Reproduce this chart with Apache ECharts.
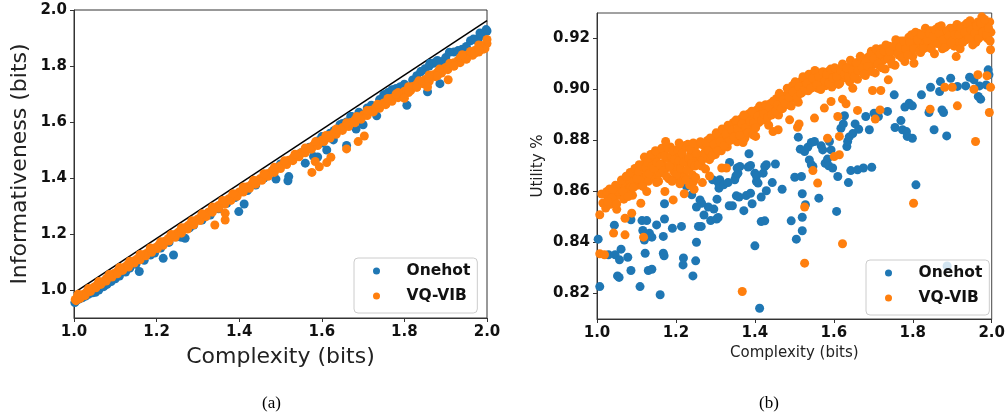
<!DOCTYPE html>
<html>
<head>
<meta charset="utf-8">
<script src="https://cdn.jsdelivr.net/npm/echarts@6/dist/echarts.min.js"></script>
<style>
  html, body { margin: 0; padding: 0; background: #fff; }
  #chart { width: 1008px; height: 417px; }
</style>
</head>
<body>
<div id="chart"></div>
<script>
// ---- data ----
const seriesNames = ['Onehot', 'VQ-VIB'];
const xTicks = [1.0, 1.2, 1.4, 1.6, 1.8, 2.0];
const leftYTicks = [1.0, 1.2, 1.4, 1.6, 1.8, 2.0];
const rightYTicks = [0.82, 0.84, 0.86, 0.88, 0.90, 0.92];

// (a) complexity vs informativeness
const boundLine = [[1.0, 0.99], [2.0, 1.962]];

const onehotA = [
  [1.002,0.955],[1.006,0.962],[1.012,0.968],[1.02,0.972],[1.028,0.978],[1.035,0.985],[1.045,0.99],
  [1.052,0.992],[1.06,1.0],[1.072,1.012],[1.08,1.02],[1.09,1.03],[1.1,1.04],[1.11,1.05],[1.125,1.064],
  [1.135,1.078],[1.15,1.092],[1.17,1.106],[1.185,1.125],[1.195,1.132],[1.21,1.15],[1.23,1.17],
  [1.25,1.19],[1.26,1.188],[1.28,1.222],[1.29,1.232],[1.31,1.25],[1.33,1.268],[1.35,1.29],[1.37,1.31],
  [1.39,1.33],[1.42,1.355],[1.44,1.375],[1.46,1.40],[1.48,1.425],[1.5,1.45],[1.51,1.455],[1.53,1.468],
  [1.55,1.49],[1.57,1.51],[1.59,1.532],[1.6,1.548],[1.62,1.56],[1.63,1.57],[1.65,1.595],[1.66,1.60],
  [1.67,1.62],[1.69,1.635],[1.71,1.65],[1.72,1.66],[1.74,1.68],[1.75,1.697],[1.76,1.705],[1.77,1.715],
  [1.78,1.72],[1.79,1.725],[1.8,1.735],[1.82,1.75],[1.83,1.765],[1.84,1.78],[1.85,1.79],[1.86,1.80],
  [1.87,1.81],[1.88,1.82],[1.89,1.815],[1.9,1.83],[1.92,1.85],[1.93,1.855],[1.94,1.86],[1.95,1.87],
  [1.96,1.89],[1.97,1.895],[1.98,1.90],[1.99,1.915],[2.0,1.925],
  [1.158,1.066],[1.216,1.113],[1.241,1.125],[1.269,1.185],[1.399,1.28],[1.412,1.307],[1.489,1.396],
  [1.518,1.39],[1.52,1.405],[1.56,1.453],[1.58,1.477],[1.59,1.475],[1.6,1.525],[1.612,1.50],
  [1.628,1.536],[1.644,1.59],[1.66,1.516],[1.672,1.62],[1.683,1.575],[1.70,1.59],[1.733,1.622],
  [1.753,1.697],[1.777,1.715],[1.79,1.725],[1.806,1.66],[1.84,1.78],[1.856,1.708],[1.862,1.81],
  [1.878,1.816],[1.886,1.737],[1.909,1.849],[1.967,1.896],[1.983,1.918],[1.998,1.93]
];

const vqvibA = [
  [1.003,0.966],[1.008,0.975],[1.012,0.972],[1.018,0.982],[1.024,0.985],[1.03,0.992],[1.036,0.996],
  [1.042,1.003],[1.048,1.01],[1.055,1.016],[1.06,1.02],[1.066,1.028],[1.072,1.031],[1.078,1.04],
  [1.085,1.046],[1.09,1.05],[1.097,1.059],[1.103,1.064],[1.11,1.07],[1.117,1.078],[1.124,1.083],
  [1.13,1.09],[1.138,1.096],[1.145,1.104],[1.152,1.11],[1.16,1.118],[1.168,1.126],[1.175,1.13],
  [1.183,1.14],[1.19,1.146],[1.198,1.152],[1.205,1.16],[1.213,1.168],[1.22,1.174],[1.228,1.183],
  [1.236,1.19],[1.244,1.198],[1.252,1.206],[1.26,1.214],[1.268,1.222],[1.276,1.23],[1.284,1.238],
  [1.292,1.246],[1.3,1.254],[1.308,1.262],[1.316,1.27],[1.325,1.278],[1.333,1.286],[1.342,1.294],
  [1.35,1.302],[1.358,1.31],[1.366,1.318],[1.375,1.326],[1.383,1.334],[1.392,1.342],[1.4,1.35],
  [1.41,1.36],[1.42,1.369],[1.43,1.378],[1.44,1.388],[1.45,1.397],[1.46,1.407],[1.47,1.416],
  [1.48,1.426],[1.49,1.435],[1.5,1.444],[1.51,1.454],[1.52,1.463],[1.53,1.472],[1.54,1.481],
  [1.55,1.49],[1.56,1.499],[1.57,1.508],[1.58,1.517],[1.59,1.526],[1.6,1.535],[1.61,1.544],
  [1.62,1.553],[1.63,1.562],[1.64,1.571],[1.65,1.58],[1.66,1.589],[1.67,1.598],[1.68,1.607],
  [1.69,1.616],[1.7,1.625],[1.71,1.633],[1.72,1.642],[1.73,1.651],[1.74,1.66],[1.75,1.668],
  [1.76,1.676],[1.77,1.685],[1.78,1.693],[1.79,1.702],[1.8,1.71],[1.81,1.718],[1.82,1.727],
  [1.83,1.735],[1.84,1.744],[1.85,1.752],[1.86,1.76],[1.87,1.769],[1.88,1.778],[1.89,1.786],
  [1.9,1.795],[1.91,1.803],[1.92,1.812],[1.93,1.82],[1.94,1.829],[1.95,1.838],[1.96,1.846],
  [1.97,1.855],[1.98,1.863],[1.99,1.872],[2.0,1.88],
  [1.005,0.962],[1.015,0.97],[1.027,0.98],[1.04,0.995],[1.053,1.008],[1.065,1.02],[1.078,1.032],
  [1.092,1.046],[1.105,1.058],[1.118,1.07],[1.132,1.082],[1.146,1.096],[1.16,1.108],[1.174,1.122],
  [1.188,1.135],[1.202,1.148],[1.216,1.16],[1.23,1.175],[1.245,1.188],[1.26,1.203],[1.275,1.218],
  [1.29,1.233],[1.305,1.248],[1.32,1.262],[1.335,1.278],[1.35,1.292],[1.365,1.306],[1.38,1.32],
  [1.395,1.335],[1.41,1.35],[1.425,1.363],[1.44,1.378],[1.455,1.392],[1.47,1.406],[1.485,1.42],
  [1.5,1.434],[1.515,1.448],[1.53,1.462],[1.545,1.476],[1.56,1.49],[1.575,1.503],[1.59,1.516],
  [1.605,1.53],[1.62,1.543],[1.635,1.556],[1.65,1.57],[1.665,1.584],[1.68,1.597],[1.695,1.61],
  [1.71,1.623],[1.725,1.636],[1.74,1.649],[1.755,1.662],[1.77,1.674],[1.785,1.687],[1.8,1.70],
  [1.815,1.712],[1.83,1.724],[1.845,1.737],[1.86,1.75],[1.875,1.762],[1.89,1.775],[1.905,1.787],
  [1.92,1.80],[1.935,1.812],[1.95,1.825],[1.965,1.838],[1.98,1.85],[1.995,1.862],
  [1.01,0.985],[1.035,1.005],[1.06,1.03],[1.085,1.055],[1.11,1.08],[1.135,1.103],[1.16,1.127],
  [1.185,1.15],[1.21,1.172],[1.235,1.198],[1.26,1.222],[1.285,1.247],[1.31,1.272],[1.335,1.296],
  [1.36,1.32],[1.385,1.344],[1.41,1.368],[1.435,1.392],[1.46,1.415],[1.485,1.438],[1.51,1.462],
  [1.535,1.485],[1.56,1.507],[1.585,1.53],[1.61,1.552],[1.635,1.575],[1.66,1.597],[1.685,1.62],
  [1.71,1.641],[1.735,1.663],[1.76,1.684],[1.785,1.705],[1.81,1.726],[1.835,1.747],[1.86,1.768],
  [1.885,1.789],[1.91,1.81],[1.935,1.83],[1.96,1.852],[1.985,1.873],
  [1.78,1.70],[1.81,1.705],[1.83,1.725],[1.86,1.745],[1.88,1.765],[1.92,1.80],[1.95,1.825],
  [1.97,1.845],[1.99,1.86],[2.0,1.895],[1.98,1.875],[1.94,1.84],
  [1.341,1.232],[1.366,1.25],[1.366,1.274],[1.576,1.42],[1.584,1.459],[1.594,1.44],[1.612,1.455],
  [1.622,1.474],[1.66,1.504],[1.688,1.53],[1.703,1.55],[1.80,1.685],[1.856,1.725],[1.906,1.751],
  [1.981,1.858]
];

// (b) complexity vs utility
const onehotB = [
  [1.003,0.8413],[1.007,0.8227],[1.044,0.8468],[1.029,0.8352],[1.046,0.8352],[1.061,0.8374],
  [1.057,0.8332],[1.052,0.8269],[1.056,0.8263],[1.078,0.8342],[1.086,0.8290],[1.086,0.8489],
  [1.109,0.8227],[1.114,0.8486],[1.126,0.8486],[1.116,0.8447],[1.120,0.8410],[1.122,0.8358],
  [1.130,0.8290],[1.139,0.8295],[1.133,0.8436],[1.139,0.8421],[1.151,0.8469],[1.160,0.8195],
  [1.168,0.8424],[1.171,0.8492],[1.171,0.8552],[1.168,0.8358],[1.170,0.8348],[1.191,0.8456],
  [1.214,0.8463],[1.219,0.8339],[1.218,0.8312],[1.227,0.8620],[1.231,0.8639],[1.240,0.8587],
  [1.243,0.8269],[1.250,0.8328],[1.252,0.8401],[1.252,0.8539],[1.261,0.8567],[1.265,0.8554],
  [1.257,0.8463],[1.264,0.8463],[1.271,0.8508],[1.282,0.8539],[1.288,0.8486],[1.296,0.8531],
  [1.293,0.8646],[1.307,0.8635],[1.309,0.8613],[1.304,0.8570],[1.307,0.8498],[1.303,0.8492],
  [1.311,0.8646],[1.321,0.8626],[1.332,0.8635],[1.336,0.8714],[1.335,0.8544],[1.343,0.8544],
  [1.349,0.8646],[1.355,0.8692],[1.352,0.8661],[1.357,0.8672],[1.362,0.8698],[1.353,0.8583],
  [1.360,0.8578],[1.372,0.8525],[1.378,0.8584],[1.383,0.8696],[1.385,0.8748],[1.389,0.8702],
  [1.389,0.8593],[1.393,0.8552],[1.400,0.8387],[1.400,0.8672],[1.404,0.8661],[1.404,0.8639],
  [1.408,0.8633],[1.412,0.8142],[1.416,0.8578],[1.416,0.8482],[1.425,0.8485],[1.421,0.8672],
  [1.425,0.8698],[1.429,0.8603],[1.429,0.8705],[1.444,0.8635],[1.452,0.8708],[1.469,0.8609],
  [1.492,0.8485],[1.501,0.8656],[1.505,0.8413],[1.510,0.8813],[1.515,0.8766],[1.518,0.8659],
  [1.520,0.8591],[1.520,0.8499],[1.520,0.8446],[1.526,0.8757],[1.528,0.8548],[1.534,0.8774],
  [1.538,0.8724],[1.543,0.8792],[1.543,0.8705],[1.547,0.8698],[1.551,0.8796],[1.562,0.8574],
  [1.568,0.8779],[1.572,0.8763],[1.578,0.8711],[1.584,0.8727],[1.587,0.8701],[1.589,0.8796],
  [1.593,0.8763],[1.597,0.8692],[1.607,0.8522],[1.610,0.8659],[1.618,0.8848],[1.624,0.8865],
  [1.627,0.8897],[1.633,0.8776],[1.635,0.8796],[1.637,0.8635],[1.639,0.8814],[1.643,0.8682],
  [1.648,0.8827],[1.654,0.8865],[1.660,0.8685],[1.663,0.8844],[1.675,0.8692],[1.681,0.8894],
  [1.690,0.8842],[1.696,0.8695],[1.702,0.8907],[1.713,0.8894],[1.736,0.8914],[1.753,0.8979],
  [1.755,0.8851],[1.770,0.8878],[1.774,0.8842],[1.780,0.8931],[1.784,0.8835],[1.786,0.8816],
  [1.791,0.8946],[1.799,0.8809],[1.799,0.8936],[1.808,0.8626],[1.822,0.8979],[1.845,0.9009],
  [1.841,0.8910],[1.854,0.8842],[1.870,0.9031],[1.868,0.8992],[1.874,0.8920],[1.878,0.8910],
  [1.886,0.8818],[1.887,0.8308],[1.896,0.9044],[1.913,0.9012],[1.934,0.9014],[1.944,0.9048],
  [1.955,0.9038],[1.966,0.8973],[1.969,0.9014],[1.972,0.8962],[1.986,0.9018],[1.991,0.9077],
  [1.993,0.9058]
];

const vqvibB = [
  [1.015,0.8555],[1.022,0.8535],[1.028,0.8575],[1.034,0.8550],[1.040,0.8600],[1.045,0.8560],
  [1.050,0.8530],[1.055,0.8585],[1.058,0.8620],[1.064,0.8600],[1.068,0.8570],[1.072,0.8630],
  [1.077,0.8605],[1.082,0.8650],[1.086,0.8620],[1.090,0.8585],[1.094,0.8640],[1.098,0.8668],
  [1.103,0.8625],[1.107,0.8705],[1.110,0.8660],[1.114,0.8640],[1.118,0.8690],[1.122,0.8712],
  [1.126,0.8665],[1.130,0.8640],[1.134,0.8700],[1.138,0.8680],[1.142,0.8725],[1.146,0.8655],
  [1.150,0.8735],[1.154,0.8700],[1.158,0.8670],[1.162,0.8745],[1.166,0.8710],[1.170,0.8760],
  [1.174,0.8690],[1.178,0.8730],[1.182,0.8650],[1.186,0.8775],[1.190,0.8715],[1.194,0.8680],
  [1.198,0.8755],[1.202,0.8700],[1.206,0.8650],[1.210,0.8740],[1.214,0.8680],[1.218,0.8770],
  [1.222,0.8660],[1.226,0.8720],[1.230,0.8785],[1.234,0.8690],[1.238,0.8745],[1.242,0.8665],
  [1.246,0.8770],[1.250,0.8720],[1.255,0.8785],[1.260,0.8740],[1.265,0.8700],[1.270,0.8780],
  [1.275,0.8755],[1.280,0.8800],[1.285,0.8725],[1.290,0.8770],[1.295,0.8810],[1.300,0.8745],
  [1.305,0.8790],[1.310,0.8820],[1.315,0.8760],[1.320,0.8840],[1.325,0.8800],[1.330,0.8775],
  [1.335,0.8850],[1.340,0.8815],[1.345,0.8870],[1.350,0.8830],[1.355,0.8795],[1.360,0.8860],
  [1.365,0.8885],[1.370,0.8840],[1.375,0.8810],[1.380,0.8880],[1.385,0.8905],[1.390,0.8855],
  [1.395,0.8830],[1.400,0.8895],[1.405,0.8920],[1.410,0.8870],[1.415,0.8900],[1.420,0.8930],
  [1.425,0.8880],[1.430,0.8915],[1.435,0.8860],[1.440,0.8945],[1.445,0.8905],[1.450,0.8935],
  [1.455,0.8965],[1.460,0.8900],[1.465,0.8950],[1.470,0.8925],[1.475,0.8975],[1.480,0.8940],
  [1.485,0.8995],[1.490,0.8960],[1.495,0.9015],[1.500,0.8975],[1.505,0.9000],[1.510,0.8950],
  [1.515,0.9030],[1.520,0.8990],[1.525,0.9015],[1.530,0.9045],[1.535,0.8995],[1.540,0.9030],
  [1.545,0.9060],[1.550,0.9010],[1.555,0.9040],[1.560,0.9005],[1.565,0.9065],[1.570,0.9025],
  [1.575,0.9050],[1.580,0.9015],[1.585,0.9070],[1.590,0.9040],[1.595,0.9010],[1.600,0.9060],
  [1.605,0.9035],[1.610,0.9080],[1.615,0.9025],[1.620,0.9055],[1.625,0.9090],[1.630,0.9045],
  [1.635,0.9070],[1.640,0.9030],[1.645,0.9100],[1.650,0.9060],[1.655,0.9085],[1.660,0.9040],
  [1.665,0.9110],[1.670,0.9070],[1.675,0.9095],[1.680,0.9055],[1.685,0.9125],[1.690,0.9085],
  [1.695,0.9150],[1.700,0.9100],[1.705,0.9065],[1.710,0.9130],[1.715,0.9095],[1.720,0.9160],
  [1.725,0.9115],[1.730,0.9080],[1.735,0.9140],[1.740,0.9170],[1.745,0.9120],[1.750,0.9150],
  [1.755,0.9095],[1.760,0.9175],[1.765,0.9135],[1.770,0.9190],[1.775,0.9150],[1.780,0.9110],
  [1.785,0.9180],[1.790,0.9205],[1.795,0.9160],[1.800,0.9130],[1.805,0.9195],[1.810,0.9170],
  [1.815,0.9220],[1.820,0.9145],[1.825,0.9185],[1.830,0.9210],[1.835,0.9165],[1.840,0.9195],
  [1.845,0.9230],[1.850,0.9180],[1.855,0.9140],[1.860,0.9210],[1.865,0.9245],[1.870,0.9190],
  [1.875,0.9160],[1.880,0.9220],[1.885,0.9200],[1.890,0.9175],[1.895,0.9240],[1.900,0.9205],
  [1.905,0.9170],[1.910,0.9225],[1.915,0.9190],[1.920,0.9160],[1.925,0.9215],[1.930,0.9250],
  [1.935,0.9195],[1.940,0.9230],[1.945,0.9270],[1.950,0.9210],[1.955,0.9245],[1.960,0.9185],
  [1.965,0.9265],[1.970,0.9230],[1.975,0.9285],[1.980,0.9210],[1.985,0.9250],[1.990,0.9200],
  [1.995,0.9265],[1.998,0.9225],
  [1.012,0.8590],[1.025,0.8600],[1.032,0.8610],[1.038,0.8575],[1.047,0.8625],[1.053,0.8600],
  [1.062,0.8645],[1.066,0.8600],[1.074,0.8660],[1.079,0.8580],[1.084,0.8675],[1.092,0.8615],
  [1.096,0.8690],[1.101,0.8650],[1.105,0.8680],[1.112,0.8700],[1.116,0.8620],[1.120,0.8735],
  [1.124,0.8695],[1.128,0.8715],[1.132,0.8670],[1.136,0.8745],[1.140,0.8700],[1.144,0.8690],
  [1.148,0.8760],[1.152,0.8715],[1.156,0.8640],[1.160,0.8705],[1.164,0.8770],[1.168,0.8680],
  [1.172,0.8740],[1.176,0.8660],[1.180,0.8770],[1.184,0.8700],[1.188,0.8740],[1.192,0.8760],
  [1.196,0.8725],[1.200,0.8665],[1.204,0.8765],[1.208,0.8720],[1.212,0.8690],[1.216,0.8750],
  [1.220,0.8715],[1.224,0.8780],[1.228,0.8685],[1.232,0.8730],[1.236,0.8765],[1.240,0.8710],
  [1.244,0.8790],[1.248,0.8700],[1.252,0.8750],[1.257,0.8705],[1.262,0.8795],[1.267,0.8725],
  [1.272,0.8750],[1.277,0.8790],[1.282,0.8760],[1.287,0.8810],[1.292,0.8740],[1.297,0.8785],
  [1.302,0.8830],[1.307,0.8760],[1.312,0.8795],[1.317,0.8845],[1.322,0.8780],[1.327,0.8825],
  [1.332,0.8860],[1.337,0.8800],[1.342,0.8840],[1.347,0.8815],[1.352,0.8880],[1.357,0.8845],
  [1.362,0.8820],[1.367,0.8865],[1.372,0.8900],[1.377,0.8850],[1.382,0.8830],[1.387,0.8875],
  [1.392,0.8915],[1.397,0.8870],[1.402,0.8850],[1.407,0.8895],[1.412,0.8935],[1.417,0.8880],
  [1.422,0.8905],[1.427,0.8940],[1.432,0.8890],[1.437,0.8930],[1.442,0.8900],[1.447,0.8955],
  [1.452,0.8915],[1.457,0.8940],[1.462,0.8985],[1.467,0.8925],[1.472,0.8960],[1.477,0.8945],
  [1.482,0.9005],[1.487,0.8970],[1.492,0.8935],[1.497,0.8990],[1.502,0.9030],[1.507,0.8970],
  [1.512,0.9010],[1.517,0.8985],[1.522,0.9050],[1.527,0.9000],[1.532,0.9025],[1.537,0.9060],
  [1.542,0.9005],[1.547,0.9045],[1.552,0.9075],[1.557,0.9020],[1.562,0.9050],[1.567,0.9000],
  [1.572,0.9070],[1.577,0.9035],[1.582,0.9060],[1.587,0.9025],[1.592,0.9080],[1.597,0.9045],
  [1.602,0.9085],[1.607,0.9050],[1.612,0.9020],[1.617,0.9075],[1.622,0.9100],[1.627,0.9060],
  [1.632,0.9085],[1.637,0.9050],[1.642,0.9115],[1.647,0.9075],[1.652,0.9050],[1.657,0.9105],
  [1.662,0.9075],[1.667,0.9130],[1.672,0.9085],[1.677,0.9060],[1.682,0.9110],[1.687,0.9090],
  [1.692,0.9135],[1.697,0.9070],[1.702,0.9120],[1.707,0.9160],[1.712,0.9100],[1.717,0.9140],
  [1.722,0.9085],[1.727,0.9150],[1.732,0.9175],[1.737,0.9120],[1.742,0.9150],[1.747,0.9100],
  [1.752,0.9170],[1.757,0.9195],[1.762,0.9140],[1.767,0.9165],[1.772,0.9125],[1.777,0.9190],
  [1.782,0.9160],[1.787,0.9135],[1.792,0.9185],[1.797,0.9215],[1.802,0.9160],[1.807,0.9225],
  [1.812,0.9195],[1.817,0.9150],[1.822,0.9215],[1.827,0.9160],[1.832,0.9240],[1.837,0.9195],
  [1.842,0.9220],[1.847,0.9160],[1.852,0.9210],[1.857,0.9235],[1.862,0.9180],[1.867,0.9220],
  [1.872,0.9250],[1.877,0.9195],[1.882,0.9165],[1.887,0.9230],[1.892,0.9210],[1.897,0.9185],
  [1.902,0.9240],[1.907,0.9215],[1.912,0.9255],[1.917,0.9215],[1.922,0.9240],[1.927,0.9185],
  [1.932,0.9225],[1.937,0.9260],[1.942,0.9200],[1.947,0.9235],[1.952,0.9175],[1.957,0.9220],
  [1.962,0.9250],[1.967,0.9200],[1.972,0.9260],[1.977,0.9225],[1.982,0.9275],[1.987,0.9215],
  [1.992,0.9240],[1.996,0.9190],
  [1.190,0.8640],[1.210,0.8630],[1.225,0.8645],[1.235,0.8625],[1.245,0.8640],[1.250,0.8655],
  [1.174,0.8796],[1.208,0.8790],
  [1.007,0.8509],[1.007,0.8356],[1.019,0.8352],[1.042,0.8437],[1.040,0.8609],[1.050,0.8552],
  [1.027,0.8561],[1.071,0.8495],[1.071,0.8430],[1.088,0.8515],[1.111,0.8554],[1.118,0.8421],
  [1.126,0.8600],[1.151,0.8635],[1.172,0.8600],[1.193,0.8567],[1.221,0.8591],[1.246,0.8609],
  [1.267,0.8635],[1.275,0.8688],[1.285,0.8661],[1.316,0.8692],[1.328,0.8692],[1.370,0.8792],
  [1.395,0.8822],[1.402,0.8816],[1.368,0.8208],[1.446,0.8835],[1.459,0.8842],[1.488,0.8881],
  [1.508,0.8852],[1.512,0.8865],[1.526,0.8539],[1.526,0.8319],[1.547,0.8682],[1.551,0.8888],
  [1.559,0.8633],[1.576,0.8927],[1.584,0.8809],[1.593,0.8953],[1.601,0.8737],[1.614,0.8744],
  [1.610,0.8894],[1.614,0.8816],[1.622,0.8395],[1.622,0.8962],[1.631,0.8944],[1.648,0.9005],
  [1.660,0.8918],[1.698,0.8996],[1.705,0.8884],[1.717,0.8920],[1.719,0.8996],[1.738,0.9038],
  [1.802,0.8554],[1.803,0.9103],[1.844,0.8923],[1.881,0.9009],[1.900,0.9009],[1.913,0.8936],
  [1.910,0.9129],[1.955,0.9001],[1.959,0.8796],[1.965,0.9058],[1.988,0.9054],[1.994,0.8910],
  [1.997,0.9009],[1.997,0.9156]
];

// ---- chart ----
const BLUE = '#1f77b4';
const ORANGE = '#ff7f0e';
const AXIS_COLOR = '#333';
const FONT = 'DejaVu Sans';

const tickLabel = function (digits) {
    return {
        fontFamily: FONT,
        fontWeight: 'bold',
        fontSize: 15,
        color: '#111',
        margin: 7,
        formatter: v => Number(v).toFixed(digits)
    };
};

const makeAxis = function (opts) {
    return Object.assign({
        type: 'value',
        nameLocation: 'middle',
        axisLine: { show: true, onZero: false, lineStyle: { color: AXIS_COLOR, width: 1 } },
        axisTick: { show: true, length: 4, inside: false, lineStyle: { color: AXIS_COLOR } },
        splitLine: { show: false }
    }, opts);
};

const legendBox = function (left, top) {
    return {
        data: seriesNames,
        orient: 'vertical',
        left: left,
        top: top,
        icon: 'circle',
        itemWidth: 50,
        itemHeight: 7,
        itemGap: 9,
        padding: [5, 7, 9, 19],
        backgroundColor: 'rgba(255,255,255,0.8)',
        borderColor: '#cccccc',
        borderWidth: 1,
        borderRadius: 4,
        textStyle: { fontFamily: FONT, fontWeight: 'bold', fontSize: 15.5, color: '#111' }
    };
};

const scatter = function (name, color, data, idx) {
    return {
        name: name,
        type: 'scatter',
        xAxisIndex: idx,
        yAxisIndex: idx,
        symbol: 'circle',
        symbolSize: 9,
        itemStyle: { color: color, opacity: 1 },
        data: data
    };
};

const chart = echarts.init(document.getElementById('chart'), null, { renderer: 'canvas' });

chart.setOption({
    animation: false,
    backgroundColor: '#fff',
    grid: [
        { left: 74, top: 10, width: 413, height: 308, show: true, borderColor: AXIS_COLOR, borderWidth: 1, containLabel: false },
        { left: 597, top: 13, width: 396, height: 306, show: true, borderColor: '#444', borderWidth: 1, containLabel: false }
    ],
    xAxis: [
        makeAxis({
            gridIndex: 0, min: 1.0, max: 2.0, interval: 0.2,
            name: 'Complexity (bits)', nameGap: 28,
            nameTextStyle: { fontFamily: FONT, fontSize: 22, color: '#222' },
            axisLabel: tickLabel(1)
        }),
        makeAxis({
            gridIndex: 1, min: 1.0, max: 2.0, interval: 0.2,
            name: 'Complexity (bits)', nameGap: 26,
            nameTextStyle: { fontFamily: FONT, fontSize: 15, color: '#222' },
            axisLabel: tickLabel(1)
        })
    ],
    yAxis: [
        makeAxis({
            gridIndex: 0, min: 0.9, max: 2.0,
            name: 'Informativeness (bits)', nameGap: 43,
            nameTextStyle: { fontFamily: FONT, fontSize: 22, color: '#222' },
            axisLabel: Object.assign(tickLabel(1), { customValues: leftYTicks }),
            axisTick: { show: true, length: 4, customValues: leftYTicks, lineStyle: { color: AXIS_COLOR } }
        }),
        makeAxis({
            gridIndex: 1, min: 0.81, max: 0.93,
            name: 'Utility %', nameGap: 51,
            nameTextStyle: { fontFamily: FONT, fontSize: 15, color: '#222' },
            axisLabel: Object.assign(tickLabel(2), { customValues: rightYTicks }),
            axisTick: { show: true, length: 4, customValues: rightYTicks, lineStyle: { color: AXIS_COLOR } }
        })
    ],
    legend: [legendBox(354, 258), legendBox(866, 260)],
    series: [
        {
            name: 'bound',
            type: 'line',
            xAxisIndex: 0,
            yAxisIndex: 0,
            symbol: 'none',
            lineStyle: { color: '#000', width: 1.5 },
            data: boundLine,
            z: 1
        },
        scatter(seriesNames[0], BLUE, onehotA, 0),
        scatter(seriesNames[1], ORANGE, vqvibA, 0),
        scatter(seriesNames[0], BLUE, onehotB, 1),
        scatter(seriesNames[1], ORANGE, vqvibB, 1)
    ],
    graphic: [
        { type: 'text', left: 262, top: 395, style: { text: '(a)', font: '17px "Liberation Serif"', fill: '#000' } },
        { type: 'text', left: 759, top: 395, style: { text: '(b)', font: '17px "Liberation Serif"', fill: '#000' } }
    ]
});
</script>
</body>
</html>
